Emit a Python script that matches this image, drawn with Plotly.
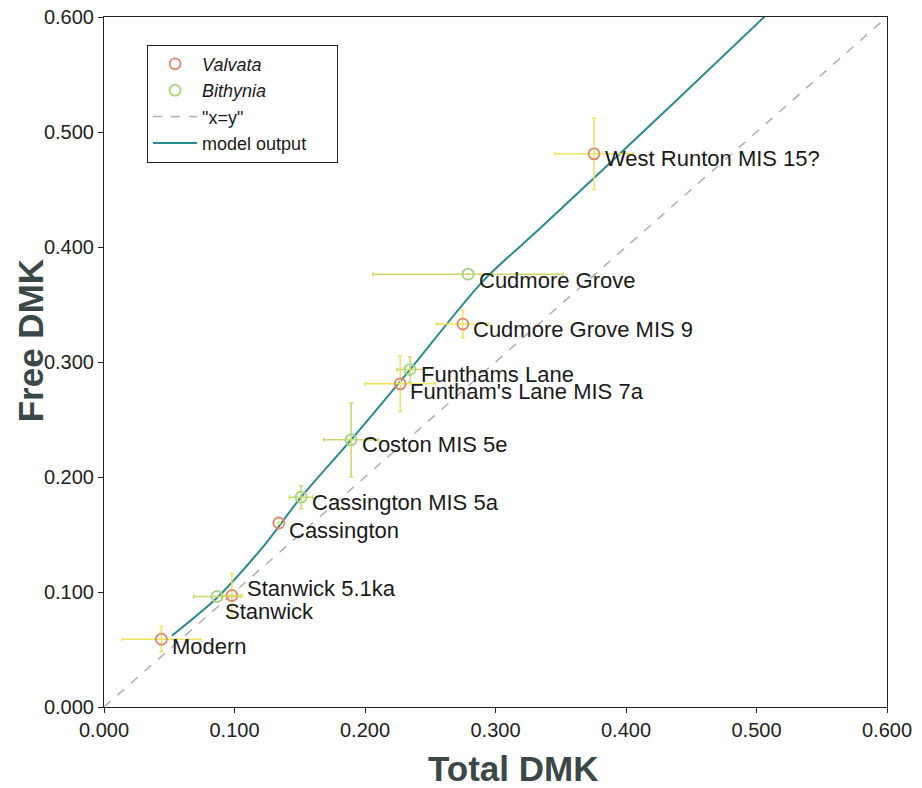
import plotly.graph_objects as go

# Valvata (open red/orange circles)
val_names = ["Modern", "Stanwick 5.1ka", "Cassington", "Funtham's Lane MIS 7a",
             "Cudmore Grove MIS 9", "West Runton MIS 15?"]
val_total = [0.044, 0.098, 0.134, 0.227, 0.275, 0.3755]
val_free = [0.059, 0.097, 0.160, 0.281, 0.333, 0.481]
val_total_err = [0.030, 0.008, 0.0, 0.027, 0.020, 0.030]
val_free_err = [0.011, 0.019, 0.0, 0.024, 0.012, 0.031]

# Bithynia (open green circles)
bit_names = ["Stanwick", "Cassington MIS 5a", "Coston MIS 5e", "Funthams Lane", "Cudmore Grove"]
bit_total = [0.0866, 0.151, 0.1893, 0.2345, 0.279]
bit_free = [0.0961, 0.1825, 0.2323, 0.2934, 0.3764]
bit_total_err = [0.018, 0.009, 0.021, 0.010, 0.073]
bit_free_err = [0.0, 0.010, 0.032, 0.011, 0.0]

# model output curve
model_total = [0.052, 0.0866, 0.122, 0.151, 0.1893, 0.2345, 0.2904, 0.334, 0.3755, 0.441, 0.514]
model_free = [0.062, 0.0950, 0.1395, 0.1825, 0.2323, 0.2934, 0.3703, 0.416, 0.460, 0.530, 0.6087]

# x=y line
xy_line = [0.0, 0.6]

ticks = [0.0, 0.1, 0.2, 0.3, 0.4, 0.5, 0.6]

FONT = "Liberation Sans, Arial"
PAD = "\u00a0" * 5

fig = go.Figure()

fig.add_trace(go.Scatter(
    x=xy_line, y=xy_line, mode="lines", name='"x=y"', legendrank=3,
    line=dict(color="#b0b0b0", width=1.5, dash="dash"),
))
fig.add_trace(go.Scatter(
    x=model_total, y=model_free, mode="lines", name="model output" + PAD, legendrank=4,
    line=dict(color="#2b8a90", width=2, shape="spline", smoothing=0.8),
))
fig.add_trace(go.Scatter(
    x=val_total, y=val_free, mode="markers", name="<i>Valvata</i>", legendrank=1,
    marker=dict(symbol="circle-open", size=11, color="#e5866c", line=dict(width=1.8)),
    error_x=dict(type="data", array=val_total_err, color="#f1e35c", thickness=1.5, width=2),
    error_y=dict(type="data", array=val_free_err, color="#f1e35c", thickness=1.5, width=2),
))
fig.add_trace(go.Scatter(
    x=bit_total, y=bit_free, mode="markers", name="<i>Bithynia</i>", legendrank=2,
    marker=dict(symbol="circle-open", size=11, color="#a6d67e", line=dict(width=1.8)),
    error_x=dict(type="data", array=bit_total_err, color="#cfd76a", thickness=1.5, width=2),
    error_y=dict(type="data", array=bit_free_err, color="#cfd76a", thickness=1.5, width=2),
))

# label offsets (pixels)
val_off = [(9, -7), (13, 7), (8, -7), (8, -8), (8, -5), (9, -5)]
bit_off = [(6, -15), (9, -5), (9, -5), (9, -5), (9, -6)]

for names, xs, ys, offs in [(val_names, val_total, val_free, val_off),
                            (bit_names, bit_total, bit_free, bit_off)]:
    for n, x, y, (dx, dy) in zip(names, xs, ys, offs):
        fig.add_annotation(x=x, y=y, text=n, showarrow=False, xanchor="left",
                           yanchor="middle", xshift=dx, yshift=dy,
                           font=dict(family=FONT, size=22, color="#1a1a1a"))

# axis titles (placed as annotations for exact positioning)
fig.add_annotation(xref="paper", yref="paper", x=0.522, y=0, yshift=-61,
                   text="<b>Total DMK</b>", showarrow=False, xanchor="center", yanchor="middle",
                   font=dict(family=FONT, size=35, color="#3b4848"))
fig.add_annotation(xref="paper", yref="paper", x=0, y=0.53, xshift=-74,
                   text="<b>Free DMK</b>", showarrow=False, textangle=-90,
                   xanchor="center", yanchor="middle",
                   font=dict(family=FONT, size=35, color="#3b4848"))

axis_common = dict(
    range=[0, 0.6], tickvals=ticks, tickformat=".3f", automargin=False,
    showgrid=False, zeroline=False, showline=True, mirror=True,
    linecolor="#222222", linewidth=1, ticks="outside", ticklen=5, tickcolor="#222222",
    tickfont=dict(family=FONT, size=20, color="#222222"), ticklabeloverflow="allow",
)

fig.update_layout(
    width=922, height=788,
    margin=dict(l=104, r=35, t=17, b=81),
    paper_bgcolor="white", plot_bgcolor="white",
    xaxis=dict(**axis_common),
    yaxis=dict(**axis_common),
    legend=dict(x=0.055, y=0.96, xanchor="left", yanchor="top",
                bordercolor="#222222", borderwidth=1, bgcolor="white",
                font=dict(family=FONT, size=18, color="#1a1a1a"),
                itemwidth=44, tracegroupgap=0),
    showlegend=True,
)

fig.write_html("out.html", config={"displayModeBar": False},
               post_script="document.body.style.margin='0';")
